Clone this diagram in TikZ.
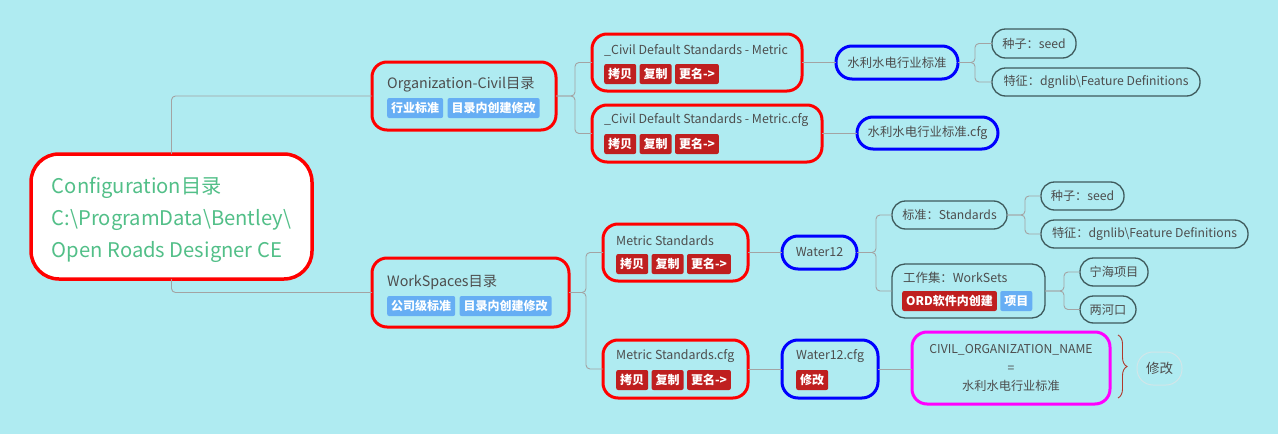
\documentclass[tikz,border=0pt]{standalone}
\usepackage{fontspec}
\setmainfont{Noto Sans CJK SC}
\usetikzlibrary{calc,decorations.pathreplacing}
\definecolor{bg}{HTML}{AFEBF1}
\definecolor{txt}{HTML}{4D4D4D}
\definecolor{rootgreen}{HTML}{52BF88}
\definecolor{tagred}{HTML}{BF1F1F}
\definecolor{tagblue}{HTML}{66AEF4}
\definecolor{ovalc}{HTML}{3E5A5C}
\definecolor{conngray}{HTML}{A3A3A3}
\definecolor{bracecol}{HTML}{B0382C}
\definecolor{pale}{HTML}{D2E6E9}
\definecolor{boxred}{HTML}{FF0000}
\definecolor{boxblue}{HTML}{0000FF}
\definecolor{boxmag}{HTML}{FF00FF}
\begin{document}
\begin{tikzpicture}[x=1pt,y=-1pt,
  frame/.style={anchor=north west, inner sep=0pt, outer sep=0pt, line width=3pt},
  redf/.style={frame, draw=boxred, rounded corners=15pt},
  bluef/.style={frame, draw=boxblue, rounded corners=16pt, text=txt, font=\fontsize{12.4}{15}\selectfont},
  ovalf/.style={frame, draw=ovalc, line width=1.3pt, rounded corners=13.5pt, text=txt, font=\fontsize{12.2}{15}\selectfont},
  lbl/.style={anchor=west, inner sep=0pt, text=txt, font=\fontsize{12.4}{15}\selectfont},
  lblbig/.style={lbl, font=\fontsize{14.3}{17}\selectfont},
  tag/.style={anchor=west, inner xsep=4pt, inner ysep=0pt, minimum height=20pt, rounded corners=2pt, text=white, font=\bfseries\fontsize{12}{14}\selectfont},
  tr/.style={tag, fill=tagred},
  tb/.style={tag, fill=tagblue},
  conn/.style={draw=conngray, line width=0.9pt, rounded corners=4pt}
]
\useasboundingbox[fill=bg] (0,0) rectangle (1278,434);

% root
\node[redf, fill=white, line width=3.5pt, rounded corners=28pt, minimum width=281pt, minimum height=125pt] (root) at (31,154) {};
\node[inner sep=0pt, align=left, text=rootgreen, font=\fontsize{20.2}{32}\selectfont] (roottxt) at ($(root.center)+(0,3)$) {Configuration目录\\C:\textbackslash ProgramData\textbackslash Bentley\textbackslash\\Open Roads Designer CE};

% level 1
\node[redf, minimum width=184pt, minimum height=68pt] (org) at (372,62) {};
\node[lblbig] (orgtxt) at (387,85) {Organization-Civil目录};
\node[tb] (orgt1) at (387,108) {行业标准};
\node[tb] (orgt2) at ($(orgt1.east)+(4,0)$) {目录内创建修改};

\node[redf, minimum width=197pt, minimum height=69pt] (ws) at (372,258) {};
\node[lblbig] (wstxt) at (387,282) {WorkSpaces目录};
\node[tb] (wst1) at (387,306) {公司级标准};
\node[tb] (wst2) at ($(wst1.east)+(4,0)$) {目录内创建修改};

% level 2
\node[redf, minimum width=210pt, minimum height=57pt] (c1) at (592,34) {};
\node[lbl] (c1txt) at (604,50.5) {\_Civil Default Standards - Metric};
\node[tr] (c1t1) at (604,74) {拷贝};
\node[tr] (c1t2) at ($(c1t1.east)+(3,0)$) {复制};
\node[tr] (c1t3) at ($(c1t2.east)+(3,0)$) {更名->};

\node[redf, minimum width=230pt, minimum height=57pt] (c2) at (592,105) {};
\node[lbl] (c2txt) at (604,120.5) {\_Civil Default Standards - Metric.cfg};
\node[tr] (c2t1) at (604,144) {拷贝};
\node[tr] (c2t2) at ($(c2t1.east)+(3,0)$) {复制};
\node[tr] (c2t3) at ($(c2t2.east)+(3,0)$) {更名->};

\node[redf, minimum width=145pt, minimum height=57pt] (m1) at (603,224) {};
\node[lbl] (m1txt) at (616,240.5) {Metric Standards};
\node[tr] (m1t1) at (616,264) {拷贝};
\node[tr] (m1t2) at ($(m1t1.east)+(3,0)$) {复制};
\node[tr] (m1t3) at ($(m1t2.east)+(3,0)$) {更名->};

\node[redf, minimum width=145pt, minimum height=58pt] (m2) at (603,340) {};
\node[lbl] (m2txt) at (616,356.5) {Metric Standards.cfg};
\node[tr] (m2t1) at (616,380) {拷贝};
\node[tr] (m2t2) at ($(m2t1.east)+(3,0)$) {复制};
\node[tr] (m2t3) at ($(m2t2.east)+(3,0)$) {更名->};

% level 3 (blue)
\node[bluef, minimum width=122pt, minimum height=33pt] (b1) at (836,46) {水利水电行业标准};
\node[bluef, minimum width=141pt, minimum height=32pt] (b2) at (857,117) {水利水电行业标准.cfg};
\node[bluef, minimum width=75pt, minimum height=33pt] (b3) at (782,236) {Water12};
\node[frame, draw=boxblue, rounded corners=16pt, minimum width=96pt, minimum height=58pt] (b4) at (782,340) {};
\node[lbl] (b4txt) at (796,356.5) {Water12.cfg};
\node[tr] (b4t1) at (796,380) {修改};

% ovals
\node[ovalf, minimum width=84pt, minimum height=29pt] (g1) at (992,29) {种子：seed};
\node[ovalf, minimum width=208pt, minimum height=28pt] (g2) at (992,68) {特征：dgnlib\textbackslash Feature Definitions};
\node[ovalf, minimum width=115pt, minimum height=28pt] (g3) at (892,201) {标准：Standards};
\node[frame, draw=ovalc, line width=1.3pt, rounded corners=13pt, minimum width=153pt, minimum height=54pt] (g4) at (892,264) {};
\node[lbl] (g4txt) at (903,278) {工作集：WorkSets};
\node[tr] (g4t1) at (902,301) {ORD软件内创建};
\node[tb] (g4t2) at ($(g4t1.east)+(3,0)$) {项目};
\node[ovalf, minimum width=83pt, minimum height=28pt] (g5) at (1041,182) {种子：seed};
\node[ovalf, minimum width=207pt, minimum height=28pt] (g6) at (1041,220) {特征：dgnlib\textbackslash Feature Definitions};
\node[ovalf, minimum width=68pt, minimum height=28pt] (g7) at (1080,258) {宁海项目};
\node[ovalf, minimum width=56pt, minimum height=27pt] (g8) at (1080,296) {两河口};

% magenta
\node[frame, draw=boxmag, rounded corners=15pt, minimum width=198pt, minimum height=72pt, align=center, text=txt, font=\fontsize{12.2}{18.5}\selectfont] (mag) at (912,332) {CIVIL\_ORGANIZATION\_NAME\\=\\水利水电行业标准};

% brace and summary
\coordinate (brtop) at (1118,335);
\coordinate (brbot) at (1118,398);
\draw[bracecol, line width=0.9pt, decorate, decoration={brace, amplitude=9pt}] (brtop) -- (brbot);
\node[frame, draw=pale, line width=1pt, rounded corners=16pt, minimum width=45pt, minimum height=33pt, text=txt, font=\fontsize{13.5}{16}\selectfont] (mod) at (1137,352) {修改};

% connectors
\draw[conn] (root.north) |- (org.west);
\draw[conn] (root.south) |- (ws.west);
\draw[conn] (org.east) -- ++(19,0) |- (c1.west);
\draw[conn] (org.east) -- ++(19,0) |- (c2.west);
\draw[conn] (ws.east) -- ++(17,0) |- (m1.west);
\draw[conn] (ws.east) -- ++(17,0) |- (m2.west);
\draw[conn] (c1.east) -- (b1.west);
\draw[conn] (c2.east) -- (c2.east -| b2.west);
\draw[conn] (m1.east) -- (b3.west);
\draw[conn] (m2.east) -- (m2.east -| b4.west);
\draw[conn] (b1.east) -- ++(17,0) |- (g1.west);
\draw[conn] (b1.east) -- ++(17,0) |- (g2.west);
\draw[conn] (b3.east) -- ++(19,0) |- (g3.west);
\draw[conn] (b3.east) -- ++(19,0) |- (g4.west);
\draw[conn] (g3.east) -- ++(18,0) |- (g5.west);
\draw[conn] (g3.east) -- ++(18,0) |- (g6.west);
\draw[conn] (g4.east) -- ++(19,0) |- (g7.west);
\draw[conn] (g4.east) -- ++(19,0) |- (g8.west);
\draw[conn] (b4.east) -- (b4.east -| mag.west);
\end{tikzpicture}
\end{document}
